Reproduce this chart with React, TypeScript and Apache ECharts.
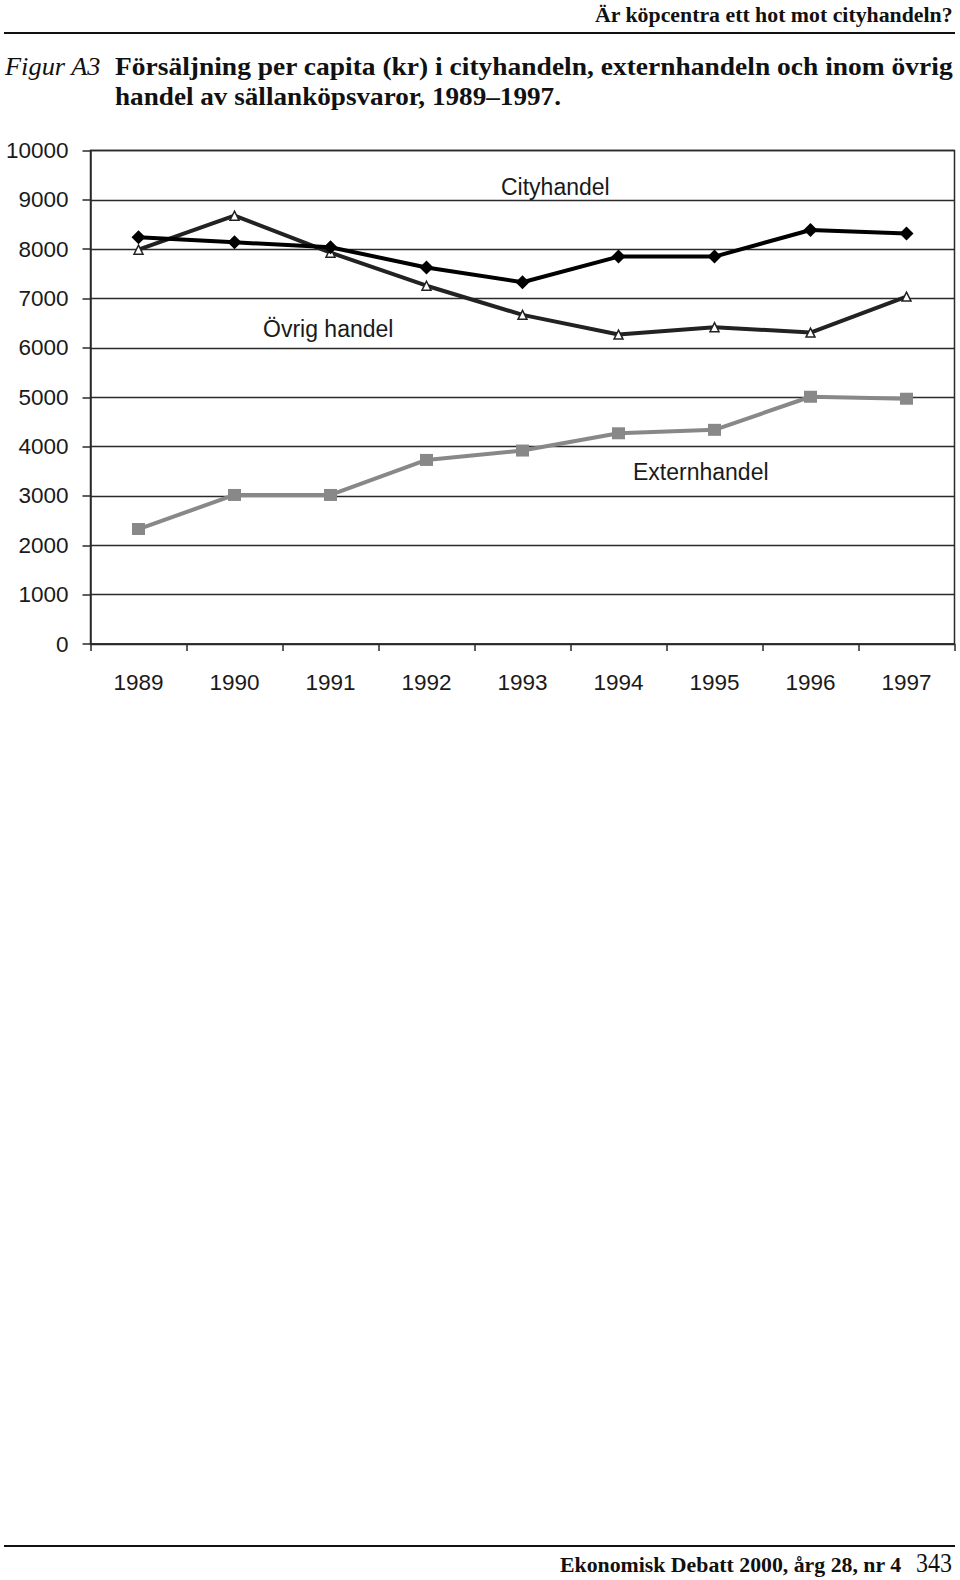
import React, { useEffect, useRef } from "react";
import * as echarts from "echarts";

const categories = ["1989", "1990", "1991", "1992", "1993", "1994", "1995", "1996", "1997"];
const cityhandel = [8240, 8140, 8040, 7630, 7330, 7850, 7850, 8390, 8320];
const ovrigHandel = [7990, 8680, 7930, 7260, 6670, 6270, 6420, 6310, 7040];
const externhandel = [2330, 3020, 3020, 3730, 3920, 4270, 4340, 5010, 4970];
const yMin = 0;
const yMax = 10000;
const yInterval = 1000;

const headerText = "Är köpcentra ett hot mot cityhandeln?";
const figLabel = "Figur A3";
const titleLine1 = "Försäljning per capita (kr) i cityhandeln, externhandeln och inom övrig";
const titleLine2 = "handel av sällanköpsvaror, 1989–1997.";
const footerText = "Ekonomisk Debatt 2000, årg 28, nr 4";
const pageNumber = "343";

const SERIF = '"Liberation Serif", "Times New Roman", serif';
const SANS = '"Liberation Sans", Arial, sans-serif';

function measure(text: string, font: string): number {
  const ctx = document.createElement("canvas").getContext("2d");
  if (!ctx) return 1;
  ctx.font = font;
  return ctx.measureText(text).width || 1;
}

function fitText(
  text: string,
  left: number,
  right: number,
  yMid: number,
  size: number,
  weight: string,
  style: string,
  family: string
) {
  const font = `${style} ${weight} ${size}px ${family}`;
  const w = measure(text, font);
  return {
    type: "text",
    x: left,
    y: yMid,
    scaleX: (right - left) / w,
    style: {
      text,
      fontSize: size,
      fontWeight: weight,
      fontStyle: style,
      fontFamily: family,
      fill: "#111",
      align: "left",
      verticalAlign: "middle",
    },
  };
}

export default function App() {
  const ref = useRef<HTMLDivElement>(null);
  useEffect(() => {
    document.body.style.margin = "0";
    if (!ref.current) return;
    const chart = echarts.init(ref.current, undefined, { renderer: "svg" });
    const lineCol = "#2a2a2a";
    const annot = (text: string, x: number, y: number) => ({
      type: "text",
      x,
      y,
      style: {
        text,
        fontSize: 23,
        fontFamily: SANS,
        fill: "#1a1a1a",
        align: "left",
        verticalAlign: "middle",
      },
    });
    chart.setOption({
      animation: false,
      backgroundColor: "#fff",
      grid: {
        left: 90.5,
        top: 150.5,
        width: 864,
        height: 493.5,
        show: true,
        borderColor: lineCol,
        borderWidth: 1.5,
        backgroundColor: "transparent",
      },
      xAxis: {
        type: "category",
        data: categories,
        boundaryGap: true,
        axisLine: { show: true, lineStyle: { color: lineCol, width: 1.5 } },
        axisTick: { show: true, alignWithLabel: false, length: 7, lineStyle: { color: lineCol, width: 1.5 } },
        axisLabel: { fontSize: 22.5, fontFamily: SANS, color: "#1a1a1a", margin: 27 },
        splitLine: { show: false },
      },
      yAxis: {
        type: "value",
        min: yMin,
        max: yMax,
        interval: yInterval,
        axisLine: { show: true, lineStyle: { color: lineCol, width: 1.5 } },
        axisTick: { show: true, length: 8, lineStyle: { color: lineCol, width: 1.5 } },
        axisLabel: {
          fontSize: 22.5,
          fontFamily: SANS,
          color: "#1a1a1a",
          margin: 22,
          formatter: (v: number) => String(v),
        },
        splitLine: { show: true, lineStyle: { color: lineCol, width: 1.3 } },
      },
      series: [
        {
          name: "Externhandel",
          type: "line",
          data: externhandel,
          symbol: "rect",
          symbolSize: [13, 12],
          lineStyle: { color: "#888", width: 4 },
          itemStyle: { color: "#888" },
          z: 2,
        },
        {
          name: "Övrig handel",
          type: "line",
          data: ovrigHandel,
          symbol: "triangle",
          symbolSize: 9,
          lineStyle: { color: "#222", width: 4 },
          itemStyle: { color: "#fff", borderColor: "#222", borderWidth: 1.5 },
          z: 3,
        },
        {
          name: "Cityhandel",
          type: "line",
          data: cityhandel,
          symbol: "diamond",
          symbolSize: 14,
          lineStyle: { color: "#000", width: 4 },
          itemStyle: { color: "#000" },
          z: 4,
        },
      ],
      graphic: [
        fitText(headerText, 595, 953, 15.6, 21, "bold", "normal", SERIF),
        { type: "line", shape: { x1: 4, y1: 33, x2: 955, y2: 33 }, style: { stroke: "#111", lineWidth: 2 } },
        fitText(figLabel, 5, 101, 66.2, 26, "normal", "italic", SERIF),
        fitText(titleLine1, 115, 953, 66.2, 26, "bold", "normal", SERIF),
        fitText(titleLine2, 115, 561, 96.2, 26, "bold", "normal", SERIF),
        annot("Cityhandel", 501, 187),
        annot("Övrig handel", 263, 329.3),
        annot("Externhandel", 633, 472),
        { type: "line", shape: { x1: 4, y1: 1546, x2: 955, y2: 1546 }, style: { stroke: "#111", lineWidth: 2 } },
        fitText(footerText, 560, 902, 1565, 20, "bold", "normal", SERIF),
        fitText(pageNumber, 916, 952, 1563, 27, "normal", "normal", SERIF),
      ],
    });
    return () => chart.dispose();
  }, []);
  return <div ref={ref} style={{ width: 960, height: 1580 }} />;
}
